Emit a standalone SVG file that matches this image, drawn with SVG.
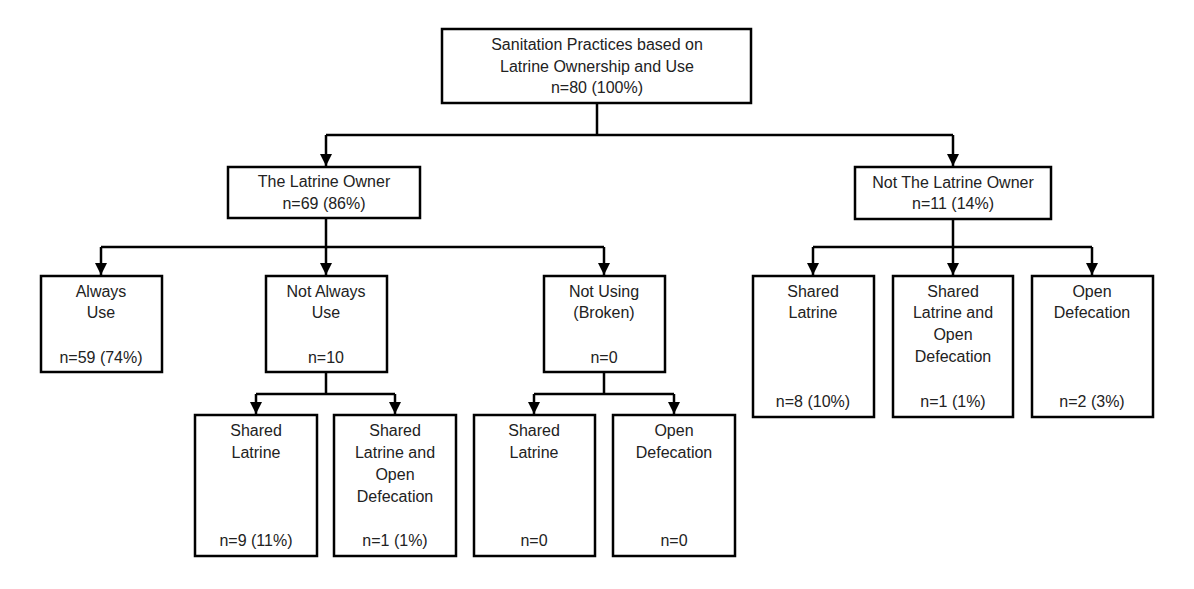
<svg xmlns="http://www.w3.org/2000/svg" width="1194" height="589" viewBox="0 0 1194 589">
<defs>
<marker id="arr" markerWidth="12" markerHeight="12" refX="10" refY="5" orient="auto" markerUnits="userSpaceOnUse" viewBox="0 0 10 10">
<path d="M0,0 L10,5 L0,10 Z" fill="#000"/>
</marker>
<style>
.box{fill:#fff;stroke:#000;stroke-width:2.5}
.t{font-family:"Liberation Sans",Arial,sans-serif;font-size:16px;fill:#222;text-anchor:middle}
.c{fill:none;stroke:#000;stroke-width:2.5}
</style>
</defs>
<rect width="1194" height="589" fill="#fff"/>
<g id="connectors">
<path class="c" d="M597,103 V135 M326,135 H953"/>
<path class="c" d="M326,135 V166" marker-end="url(#arr)"/>
<path class="c" d="M953,135 V166" marker-end="url(#arr)"/>
<path class="c" d="M326,218 V247 M101,247 H604"/>
<path class="c" d="M101,247 V275" marker-end="url(#arr)"/>
<path class="c" d="M326,247 V275" marker-end="url(#arr)"/>
<path class="c" d="M604,247 V275" marker-end="url(#arr)"/>
<path class="c" d="M953,219 V247 M813,247 H1092"/>
<path class="c" d="M813,247 V275" marker-end="url(#arr)"/>
<path class="c" d="M953,247 V275" marker-end="url(#arr)"/>
<path class="c" d="M1092,247 V275" marker-end="url(#arr)"/>
<path class="c" d="M326,372 V394 M256,394 H395"/>
<path class="c" d="M256,394 V414" marker-end="url(#arr)"/>
<path class="c" d="M395,394 V414" marker-end="url(#arr)"/>
<path class="c" d="M604,372 V394 M534,394 H674"/>
<path class="c" d="M534,394 V414" marker-end="url(#arr)"/>
<path class="c" d="M674,394 V414" marker-end="url(#arr)"/>
</g>
<g id="root">
<rect class="box" x="442" y="29" width="309" height="74"/>
<text class="t" x="597" y="50">Sanitation Practices based on</text>
<text class="t" x="597" y="72">Latrine Ownership and Use</text>
<text class="t" x="597" y="93">n=80 (100%)</text>
</g>
<g id="owner">
<rect class="box" x="228" y="167" width="192" height="51"/>
<text class="t" x="324" y="187">The Latrine Owner</text>
<text class="t" x="324" y="209">n=69 (86%)</text>
</g>
<g id="notowner">
<rect class="box" x="855" y="167" width="196" height="52"/>
<text class="t" x="953" y="188">Not The Latrine Owner</text>
<text class="t" x="953" y="209">n=11 (14%)</text>
</g>
<g id="always">
<rect class="box" x="41" y="276" width="121" height="96"/>
<text class="t" x="101" y="297">Always</text>
<text class="t" x="101" y="318">Use</text>
<text class="t" x="101" y="363">n=59 (74%)</text>
</g>
<g id="notalways">
<rect class="box" x="266" y="276" width="121" height="96"/>
<text class="t" x="326" y="297">Not Always</text>
<text class="t" x="326" y="318">Use</text>
<text class="t" x="326" y="363">n=10</text>
</g>
<g id="notusing">
<rect class="box" x="544" y="276" width="121" height="96"/>
<text class="t" x="604" y="297">Not Using</text>
<text class="t" x="604" y="318">(Broken)</text>
<text class="t" x="604" y="363">n=0</text>
</g>
<g id="no-shared">
<rect class="box" x="753" y="276" width="121" height="141"/>
<text class="t" x="813" y="297">Shared</text>
<text class="t" x="813" y="318">Latrine</text>
<text class="t" x="813" y="407">n=8 (10%)</text>
</g>
<g id="no-sharedod">
<rect class="box" x="893" y="276" width="120" height="141"/>
<text class="t" x="953" y="297">Shared</text>
<text class="t" x="953" y="318">Latrine and</text>
<text class="t" x="953" y="340">Open</text>
<text class="t" x="953" y="362">Defecation</text>
<text class="t" x="953" y="407">n=1 (1%)</text>
</g>
<g id="no-od">
<rect class="box" x="1032" y="276" width="121" height="141"/>
<text class="t" x="1092" y="297">Open</text>
<text class="t" x="1092" y="318">Defecation</text>
<text class="t" x="1092" y="407">n=2 (3%)</text>
</g>
<g id="na-shared">
<rect class="box" x="195" y="415" width="122" height="141"/>
<text class="t" x="256" y="436">Shared</text>
<text class="t" x="256" y="458">Latrine</text>
<text class="t" x="256" y="546">n=9 (11%)</text>
</g>
<g id="na-sharedod">
<rect class="box" x="334" y="415" width="122" height="141"/>
<text class="t" x="395" y="436">Shared</text>
<text class="t" x="395" y="458">Latrine and</text>
<text class="t" x="395" y="480">Open</text>
<text class="t" x="395" y="502">Defecation</text>
<text class="t" x="395" y="546">n=1 (1%)</text>
</g>
<g id="nu-shared">
<rect class="box" x="474" y="415" width="121" height="141"/>
<text class="t" x="534" y="436">Shared</text>
<text class="t" x="534" y="458">Latrine</text>
<text class="t" x="534" y="546">n=0</text>
</g>
<g id="nu-od">
<rect class="box" x="613" y="415" width="122" height="141"/>
<text class="t" x="674" y="436">Open</text>
<text class="t" x="674" y="458">Defecation</text>
<text class="t" x="674" y="546">n=0</text>
</g>
</svg>
